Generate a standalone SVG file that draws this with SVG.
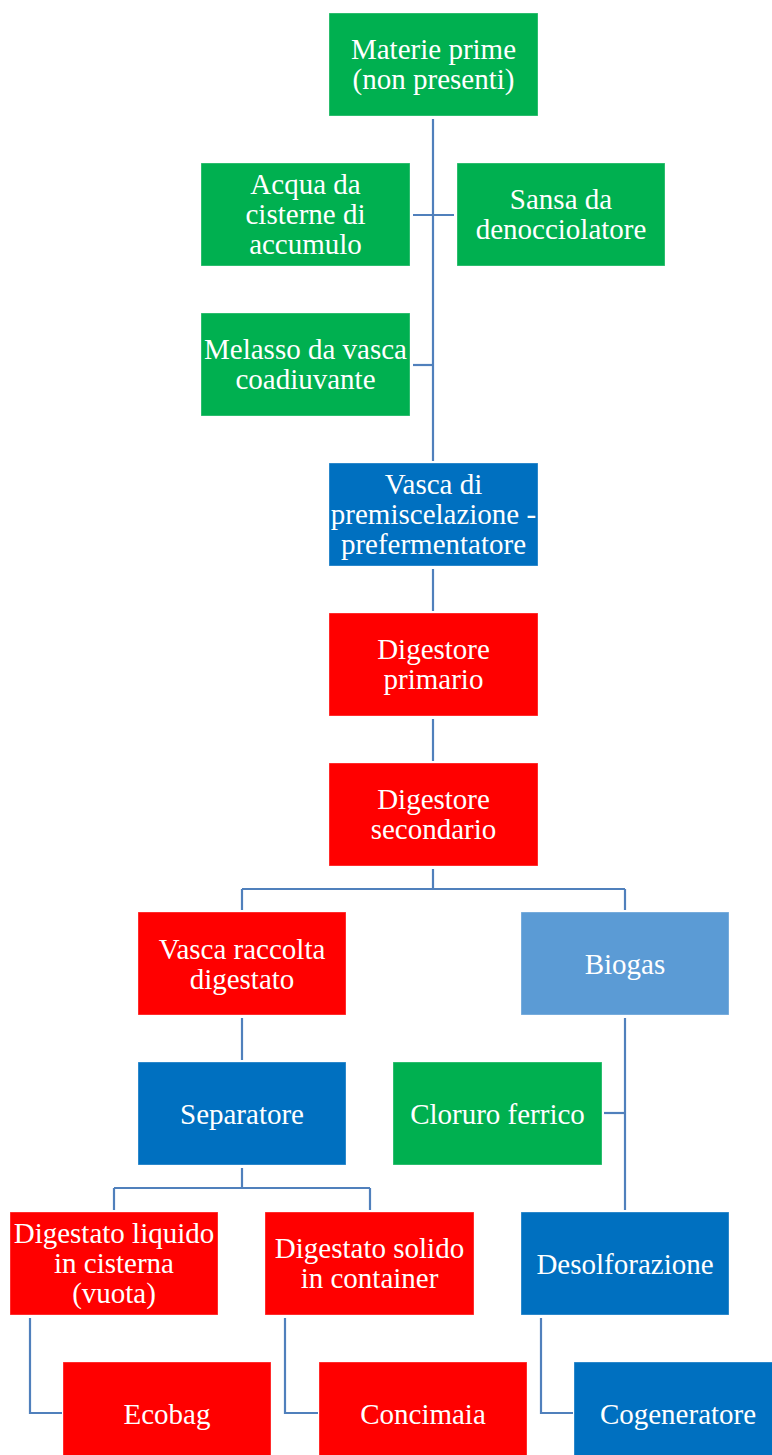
<svg xmlns="http://www.w3.org/2000/svg" width="772" height="1455" viewBox="0 0 772 1455">
<style>
.n rect{stroke:#ffffff;stroke-opacity:0.35;stroke-width:1}
.g rect{fill:#00B050}
.b rect{fill:#0070C0}
.r rect{fill:#FF0000}
.l rect{fill:#5B9BD5}
.n text{font-family:"Liberation Serif","Times New Roman","DejaVu Serif",serif;font-size:29px;fill:#ffffff;text-anchor:middle}
#connectors path{fill:none;stroke:#5080BC;stroke-width:2.2}
</style>
<rect width="772" height="1455" fill="#ffffff"/>
<g id="connectors">
<path d="M433 119V461"/>
<path d="M413 215H454"/>
<path d="M413 365H433"/>
<path d="M433 569V611"/>
<path d="M433 719V761"/>
<path d="M433 869V889M242 889H625M242 889V910M625 889V910"/>
<path d="M242 1018V1060"/>
<path d="M625 1018V1210"/>
<path d="M604 1113H625"/>
<path d="M242 1168V1188M114 1188H370M114 1188V1210M370 1188V1210"/>
<path d="M30 1318V1413H62"/>
<path d="M285 1318V1413H318"/>
<path d="M541 1318V1413H573"/>
</g>
<g font-family="Liberation Serif, Times New Roman, serif">
<g id="materie" class="n g"><rect x="329" y="13" width="209" height="103"/><text x="433.5" y="59">Materie prime</text><text x="433.5" y="89">(non presenti)</text></g>
<g id="acqua" class="n g"><rect x="201" y="163" width="209" height="103"/><text x="305.5" y="194">Acqua da</text><text x="305.5" y="224">cisterne di</text><text x="305.5" y="254">accumulo</text></g>
<g id="sansa" class="n g"><rect x="457" y="163" width="208" height="103"/><text x="561" y="209">Sansa da</text><text x="561" y="239">denocciolatore</text></g>
<g id="melasso" class="n g"><rect x="201" y="313" width="209" height="103"/><text x="305.5" y="359">Melasso da vasca</text><text x="305.5" y="389">coadiuvante</text></g>
<g id="premiscelazione" class="n b"><rect x="329" y="463" width="209" height="103"/><text x="433.5" y="494">Vasca di</text><text x="433.5" y="524">premiscelazione -</text><text x="433.5" y="554">prefermentatore</text></g>
<g id="digestore1" class="n r"><rect x="329" y="613" width="209" height="103"/><text x="433.5" y="659">Digestore</text><text x="433.5" y="689">primario</text></g>
<g id="digestore2" class="n r"><rect x="329" y="763" width="209" height="103"/><text x="433.5" y="809">Digestore</text><text x="433.5" y="839">secondario</text></g>
<g id="vascaraccolta" class="n r"><rect x="138" y="912" width="208" height="103"/><text x="242" y="959">Vasca raccolta</text><text x="242" y="989">digestato</text></g>
<g id="biogas" class="n l"><rect x="521" y="912" width="208" height="103"/><text x="625" y="974">Biogas</text></g>
<g id="separatore" class="n b"><rect x="138" y="1062" width="208" height="103"/><text x="242" y="1124">Separatore</text></g>
<g id="cloruro" class="n g"><rect x="393" y="1062" width="209" height="103"/><text x="497.5" y="1124">Cloruro ferrico</text></g>
<g id="liquido" class="n r"><rect x="10" y="1212" width="208" height="103"/><text x="114" y="1243">Digestato liquido</text><text x="114" y="1273">in cisterna</text><text x="114" y="1303">(vuota)</text></g>
<g id="solido" class="n r"><rect x="265" y="1212" width="209" height="103"/><text x="369.5" y="1258">Digestato solido</text><text x="369.5" y="1288">in container</text></g>
<g id="desolforazione" class="n b"><rect x="521" y="1212" width="208" height="103"/><text x="625" y="1274">Desolforazione</text></g>
<g id="ecobag" class="n r"><rect x="63" y="1362" width="208" height="103"/><text x="167" y="1424">Ecobag</text></g>
<g id="concimaia" class="n r"><rect x="319" y="1362" width="208" height="103"/><text x="423" y="1424">Concimaia</text></g>
<g id="cogeneratore" class="n b"><rect x="574" y="1362" width="208" height="103"/><text x="678" y="1424">Cogeneratore</text></g>
</g>
</svg>
